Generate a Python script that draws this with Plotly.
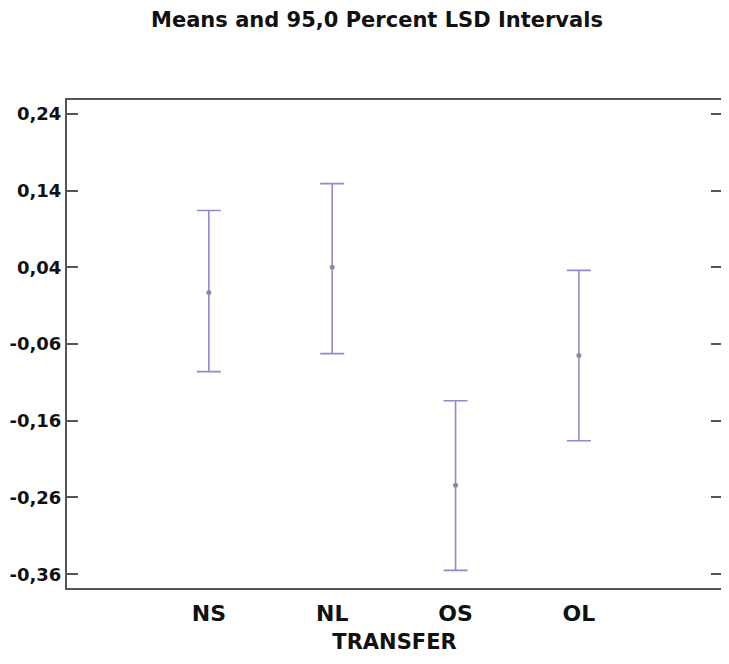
import plotly.graph_objects as go

categories = ["NS", "NL", "OS", "OL"]
cat_pos = [1, 2, 3, 4]
means = [0.007, 0.040, -0.244, -0.075]
lower = [-0.096, -0.0725, -0.355, -0.186]
upper = [0.114, 0.149, -0.134, 0.036]
y_ticks = [0.24, 0.14, 0.04, -0.06, -0.16, -0.26, -0.36]
y_tick_labels = ["0,24", "0,14", "0,04", "-0,06", "-0,16", "-0,26", "-0,36"]

err_plus = [u - m for u, m in zip(upper, means)]
err_minus = [m - l for m, l in zip(means, lower)]

bold_font = "DejaVu Sans, Verdana, sans-serif"

# the page body has an 8px margin, so the figure is laid out 8px smaller
W, H = 721, 656

fig = go.Figure()
fig.add_trace(go.Scatter(
    x=cat_pos, y=means, mode="markers",
    marker=dict(size=5, color="#8a8a9a"),
    error_y=dict(type="data", symmetric=False, array=err_plus, arrayminus=err_minus,
                 color="#8c8cc8", thickness=1.6, width=12),
    showlegend=False, hoverinfo="skip",
))

fig.update_layout(
    width=W, height=H,
    margin=dict(l=59, r=7, t=92, b=76),
    paper_bgcolor="white", plot_bgcolor="white",
    title=dict(text="<b>Means and 95,0 Percent LSD Intervals</b>",
               x=369 / W, xanchor="center", y=1 - 12 / H, yanchor="middle",
               font=dict(family=bold_font, size=21, color="#111")),
    font=dict(family=bold_font),
)
fig.update_xaxes(
    range=[-0.15, 5.16], tickmode="array", tickvals=cat_pos, ticktext=categories,
    showgrid=False, zeroline=False, showline=True, linecolor="#555", linewidth=2,
    mirror=True, ticks="", automargin=False, ticklabelstandoff=5,
    tickfont=dict(family=bold_font, size=22, color="#111", weight="bold"),
    title=dict(text="<b>TRANSFER</b>", font=dict(family=bold_font, size=21, color="#111"), standoff=9),
)
fig.update_yaxes(
    range=[-0.378, 0.258], tickmode="array", tickvals=y_ticks, ticktext=y_tick_labels,
    showgrid=False, zeroline=False, showline=True, linecolor="#555", linewidth=2,
    mirror="ticks", ticks="inside", ticklen=11, tickwidth=2, tickcolor="#555",
    automargin=False, ticklabelstandoff=0,
    tickfont=dict(family=bold_font, size=18, color="#111", weight="bold"),
)

fig.write_html("out.html")
